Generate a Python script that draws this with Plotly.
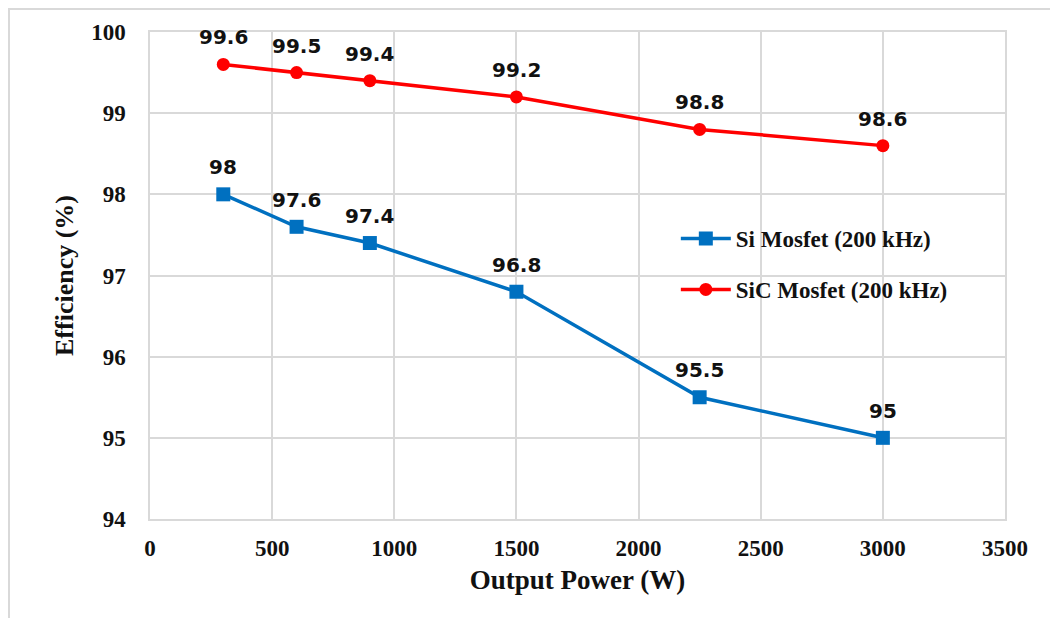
import plotly.graph_objects as go

power = [300, 600, 900, 1500, 2250, 3000]
si_eff = [98, 97.6, 97.4, 96.8, 95.5, 95]
sic_eff = [99.6, 99.5, 99.4, 99.2, 98.8, 98.6]
si_labels = ["98", "97.6", "97.4", "96.8", "95.5", "95"]
sic_labels = ["99.6", "99.5", "99.4", "99.2", "98.8", "98.6"]
x_ticks = [0, 500, 1000, 1500, 2000, 2500, 3000, 3500]
y_ticks = [94, 95, 96, 97, 98, 99, 100]

BLUE = "#0070C0"
RED = "#FF0000"
GRID = "#d9d9d9"
SERIF = "Liberation Serif"

W, H = 1050, 610
L, R, T, B = 142, 53, 24, 99
PW, PH = W - L - R, H - T - B

fig = go.Figure()
fig.add_trace(go.Scatter(
    x=power, y=si_eff, mode="lines+markers", name="Si Mosfet (200 kHz)",
    line=dict(color=BLUE, width=3.5), marker=dict(symbol="square", size=14, color=BLUE),
    legendgroup="a"))
fig.add_trace(go.Scatter(
    x=power, y=sic_eff, mode="lines+markers", name="SiC Mosfet (200 kHz)",
    line=dict(color=RED, width=3.5), marker=dict(symbol="circle", size=13, color=RED),
    legendgroup="b"))

annotations = []
for xs, ys, labs in [(power, si_eff, si_labels), (power, sic_eff, sic_labels)]:
    for x, y, t in zip(xs, ys, labs):
        annotations.append(dict(x=x, y=y, text=t, showarrow=False, yshift=27,
                                font=dict(family="DejaVu Sans", size=20, color="#111111", weight="bold")))

fig.update_layout(
    width=W, height=H,
    margin=dict(l=L, r=R, t=T, b=B),
    paper_bgcolor="white", plot_bgcolor="white",
    annotations=annotations,
    showlegend=True,
    legend=dict(x=0.615, y=0.62, xanchor="left", yanchor="top",
                font=dict(family=SERIF, size=23, color="#111111", weight="bold"),
                bgcolor="rgba(0,0,0,0)", tracegroupgap=18, itemwidth=50),
    xaxis=dict(range=[0, 3500], tickvals=x_ticks, showgrid=True, gridcolor=GRID, gridwidth=1.5,
               showline=True, linecolor=GRID, linewidth=1.5, mirror=True, zeroline=False,
               tickfont=dict(family=SERIF, size=23, color="#111111", weight="bold"),
               ticklabelstandoff=8,
               title=dict(text="Output Power (W)", standoff=10,
                          font=dict(family=SERIF, size=27, color="#111111", weight="bold"))),
    yaxis=dict(range=[94, 100], tickvals=y_ticks, showgrid=True, gridcolor=GRID, gridwidth=1.5,
               showline=True, linecolor=GRID, linewidth=1.5, mirror=True, zeroline=False,
               tickfont=dict(family=SERIF, size=23, color="#111111", weight="bold"),
               ticklabelstandoff=18,
               title=dict(text="Efficiency (%)", standoff=10,
                          font=dict(family=SERIF, size=26, color="#111111", weight="bold"))),
    shapes=[dict(type="rect", xref="paper", yref="paper",
                 x0=(1 - L) / PW, x1=(W + 20 - L) / PW,
                 y0=(PH + T - H - 20) / PH, y1=(PH + T - 1) / PH,
                 line=dict(color=GRID, width=2), layer="below")],
)

fig.write_html("out.html")
